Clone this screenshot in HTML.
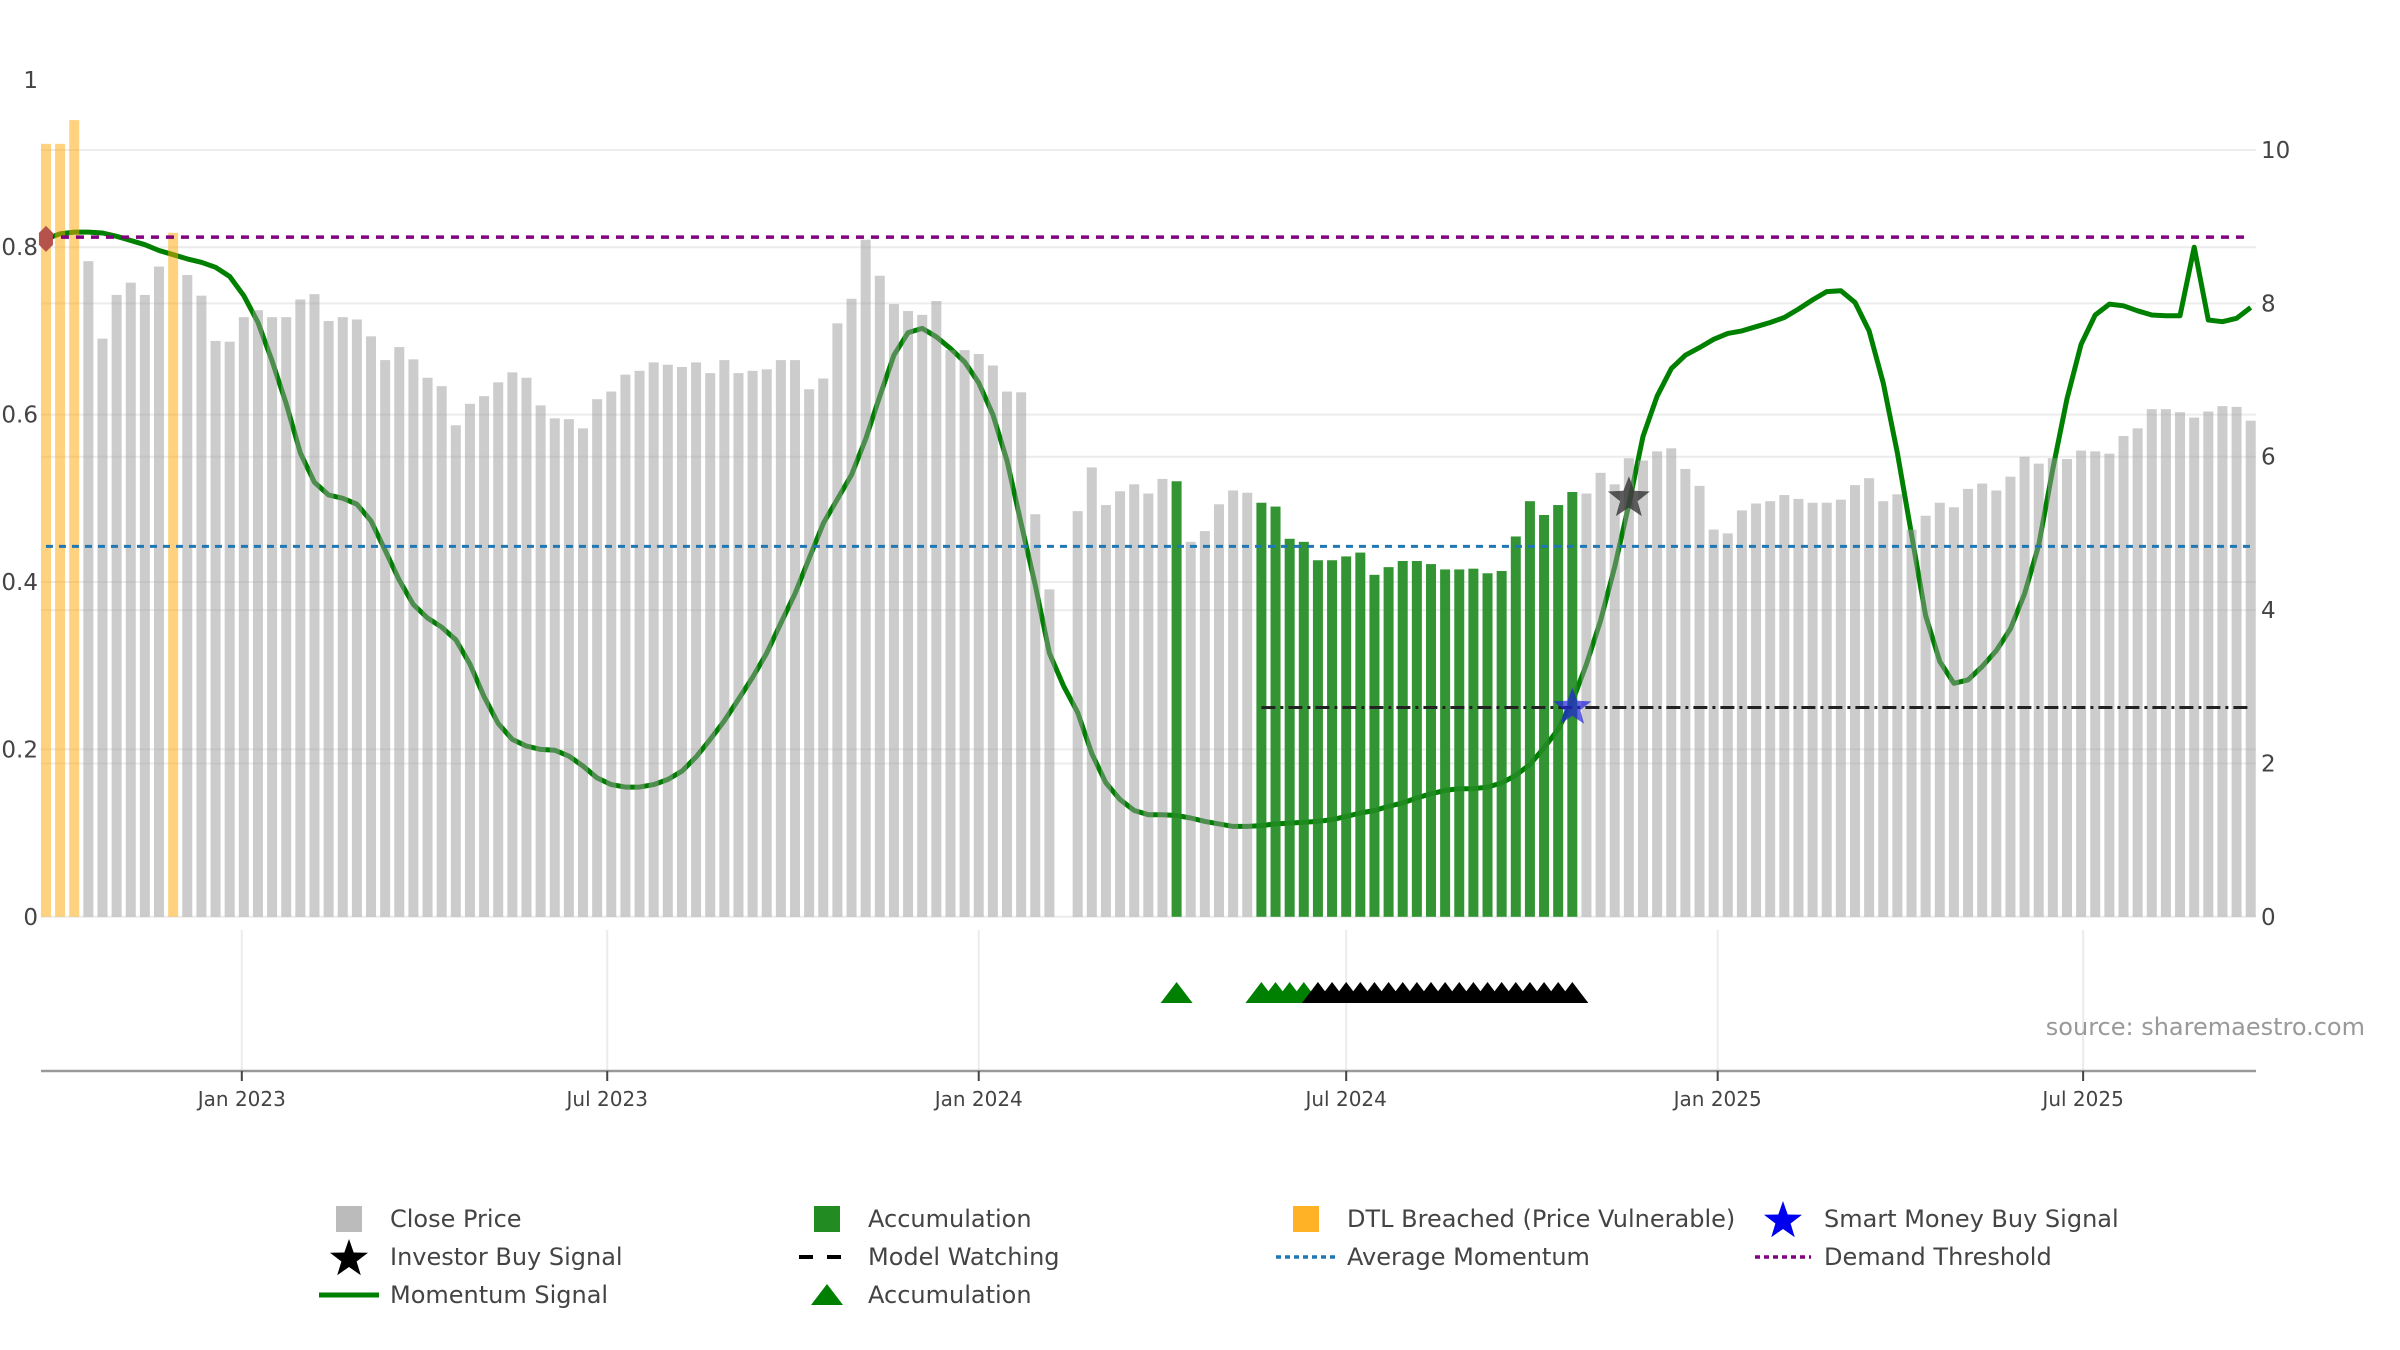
<!DOCTYPE html>
<html><head><meta charset="utf-8"><title>Momentum Chart</title>
<style>
html,body{margin:0;padding:0;background:#fff;}
svg{display:block;font-family:"DejaVu Sans","Liberation Sans",sans-serif;}
</style></head>
<body>
<svg id="chart" width="2400" height="1350" viewBox="0 0 2400 1350" xmlns="http://www.w3.org/2000/svg">
<g id="grid"></g>
<g id="lineLayer"></g>
<g id="bars"></g>
<g id="refs"></g>
<g id="markers"></g>
<g id="axes"></g>
<text x="2365" y="1035" text-anchor="end" font-size="24" fill="#999">source: sharemaestro.com</text>
<g id="legend"></g>
</svg>
<script>
const startDate = '2022-09-26';
const prices = [10.08,10.08,10.39,8.55,7.54,8.11,8.27,8.11,8.48,8.92,
8.37,8.10,7.51,7.50,7.82,7.91,7.82,7.82,8.05,8.12,
7.77,7.82,7.79,7.57,7.26,7.43,7.27,7.03,6.92,6.41,
6.69,6.79,6.97,7.10,7.03,6.67,6.50,6.49,6.37,6.75,
6.85,7.07,7.12,7.23,7.20,7.17,7.23,7.09,7.26,7.09,
7.12,7.14,7.26,7.26,6.88,7.02,7.74,8.06,8.83,8.36,
7.99,7.90,7.85,8.03,7.39,7.39,7.34,7.19,6.85,6.84,
5.25,4.27,null,5.29,5.86,5.37,5.55,5.64,5.52,5.71,
5.68,4.89,5.03,5.38,5.56,5.53,5.40,5.35,4.93,4.89,
4.65,4.65,4.70,4.75,4.46,4.56,4.64,4.64,4.60,4.53,
4.53,4.54,4.48,4.51,4.96,5.42,5.24,5.37,5.54,5.52,
5.79,5.64,5.98,5.95,6.07,6.11,5.84,5.62,5.05,5.00,
5.30,5.39,5.42,5.50,5.45,5.40,5.40,5.44,5.63,5.72,
5.42,5.51,5.05,5.23,5.40,5.34,5.58,5.65,5.56,5.74,
6.00,5.91,5.98,5.97,6.08,6.07,6.04,6.27,6.37,6.62,
6.62,6.58,6.51,6.59,6.66,6.65,6.47];
const momentum = [0.81,0.816,0.818,0.818,0.817,0.813,0.808,0.803,0.796,0.791,0.786,0.782,0.776,0.765,0.742,0.71,0.664,0.613,0.554,0.519,0.504,0.50,0.493,0.473,0.438,0.402,0.373,0.357,0.346,0.331,0.302,0.263,0.231,0.212,0.204,0.20,0.199,0.192,0.18,0.166,0.158,0.155,
0.155,0.158,0.164,0.174,0.191,0.212,0.234,0.26,0.286,0.315,0.351,0.386,0.428,0.47,0.499,0.528,0.571,0.622,0.671,0.698,0.703,0.693,0.679,0.663,0.638,0.6,0.545,0.47,0.396,0.315,0.276,0.244,0.195,0.16,0.14,0.127,0.122,0.122,0.121,0.118,
0.114,0.111,0.108,0.108,0.109,0.111,0.112,0.113,0.114,0.116,0.12,0.124,0.127,0.132,0.136,0.142,0.147,0.151,0.153,0.153,0.155,0.16,0.169,0.182,0.202,0.224,0.257,0.302,0.354,0.418,0.493,0.574,0.622,0.655,0.671,0.68,0.69,0.697,0.700,0.705,
0.71,0.716,0.726,0.737,0.747,0.748,0.734,0.70,0.638,0.554,0.457,0.36,0.305,0.279,0.283,0.299,0.318,0.344,0.386,0.444,0.535,0.619,0.684,0.719,0.732,0.73,0.724,0.719,0.718,0.718,0.80,0.713,0.711,0.715,0.728];
const dtlBars = [0,1,2,9];
const accumBars = [80,86,87,88,89,90,91,92,93,94,95,96,97,98,99,100,101,102,103,104,105,106,107,108];
const accumTriGreen = [80,86,87,88,89];
const accumTriBlack = [90,91,92,93,94,95,96,97,98,99,100,101,102,103,104,105,106,107,108];
const investorSignal = [112, 0.50];
const smartMoneySignal = [108, 0.25];
const modelWatch = [86, 156, 0.25];
const avgMomentum = 0.4425;
const demandThreshold = 0.812;
const leftTicks = [0,0.2,0.4,0.6,0.8,1];
const leftTickLabels = ['0','0.2','0.4','0.6','0.8','1'];
const rightTicks = [0,2,4,6,8,10];
const dateTicks = ['2023-01-01','2023-07-01','2024-01-01','2024-07-01','2025-01-01','2025-07-01'];
const dateTickLabels = ['Jan 2023','Jul 2023','Jan 2024','Jul 2024','Jan 2025','Jul 2025'];

const NS='http://www.w3.org/2000/svg';
const X0=41, X1=2256, YB=1071, YT=60;
const ref=Date.parse('2023-01-01');
function dayOf(s){return (Date.parse(s)-ref)/86400000;}
function xDay(d){return 241.8+2.019*d;}
function xBar(i){return xDay(dayOf(startDate)+7*i);}
function yR(v){return 916.8-v*76.68;}
function yL(v){return 916.8-v*837;}
function mk(tag,attrs,parent){const e=document.createElementNS(NS,tag);for(const k in attrs)e.setAttribute(k,attrs[k]);parent.appendChild(e);return e;}
const G=id=>document.getElementById(id);

const grid=G('grid');
rightTicks.forEach(v=>{const l=mk('line',{x1:X0,x2:X1,y1:yR(v),y2:yR(v),stroke:'#ececec','stroke-width':2},grid);

});
leftTicks.forEach(v=>{if(v===0||v===1)return;const l=mk('line',{x1:X0,x2:X1,y1:yL(v),y2:yL(v),stroke:'#ececec','stroke-width':2},grid);

});
dateTicks.forEach(d=>{const x=xDay(dayOf(d));const l=mk('line',{x1:x,x2:x,y1:930,y2:YB,stroke:'#ececec','stroke-width':2},grid);

});

const lp=momentum.map((v,i)=>(i?'L':'M')+xBar(i).toFixed(1)+','+yL(v).toFixed(1)).join(' ');
const ml=mk('path',{d:lp,fill:'none',stroke:'#008000','stroke-width':5,'stroke-linejoin':'round'},G('lineLayer'));



const bars=G('bars');
prices.forEach((v,i)=>{if(v==null)return;
let fill='rgb(153,153,153)',op=0.5,name='close-price-bar';
if(dtlBars.includes(i)){fill='#FFA500';op=0.5;name='dtl-breached-bar';}
if(accumBars.includes(i)){fill='rgb(34,139,34)';op=0.92;name='accumulation-bar';}
const r=mk('rect',{x:xBar(i)-5,y:yR(v),width:10,height:yR(0)-yR(v),fill:fill,'fill-opacity':op},bars);

});

const refs=G('refs');
let l1=mk('line',{x1:xBar(0),x2:xBar(prices.length-1),y1:yL(avgMomentum),y2:yL(avgMomentum),stroke:'#1f77b4','stroke-width':3,'stroke-dasharray':'7,6'},refs);


let l2=mk('line',{x1:xBar(0),x2:xBar(prices.length-1),y1:yL(demandThreshold),y2:yL(demandThreshold),stroke:'#800080','stroke-width':3.5,'stroke-dasharray':'8,7'},refs);


let l3=mk('line',{x1:xBar(modelWatch[0]),x2:xBar(modelWatch[1]),y1:yL(modelWatch[2]),y2:yL(modelWatch[2]),stroke:'#222','stroke-width':3,'stroke-dasharray':'14,5,3,5'},refs);



const mkG=G('markers');
function star(cx,cy,R,fill,op){let p=[];for(let k=0;k<10;k++){const a=-Math.PI/2+k*Math.PI/5;const r=k%2?R*0.42:R;p.push((cx+r*Math.cos(a)).toFixed(1)+','+(cy+r*Math.sin(a)).toFixed(1));}
return mk('polygon',{points:p.join(' '),fill:fill,'fill-opacity':op},mkG);}
function tri(cx,cy,fill){return mk('polygon',{points:`${cx-16},${cy+10} ${cx},${cy-11} ${cx+16},${cy+10}`,fill:fill},mkG);}
const triY=yL(-0.091);
accumTriGreen.forEach(i=>{const t=tri(xBar(i),triY,'#008000');

});
accumTriBlack.forEach(i=>{const t=tri(xBar(i),triY,'#000');

});
const s1=star(xBar(smartMoneySignal[0]),yL(smartMoneySignal[1]),20,'#2222dd',0.7);


const s2=star(xBar(investorSignal[0]),yL(investorSignal[1]),22,'#333',0.8);


const hx=xBar(0),hy=yL(momentum[0]);
const hex=mk('polygon',{points:`${hx},${hy-13} ${hx+7},${hy-6} ${hx+7},${hy+6} ${hx},${hy+13} ${hx-7},${hy+6} ${hx-7},${hy-6}`,fill:'#b5524a'},mkG);



const ax=G('axes');
const al=mk('line',{x1:X0,x2:X1,y1:YB,y2:YB,stroke:'#999','stroke-width':2.5},ax);


dateTicks.forEach((d,k)=>{const x=xDay(dayOf(d));
const tk=mk('line',{x1:x,x2:x,y1:YB,y2:YB+10,stroke:'#444','stroke-width':2},ax);


const t=mk('text',{x:x,y:1106,'text-anchor':'middle','font-size':20,fill:'#444'},ax);t.textContent=dateTickLabels[k];

});
leftTicks.forEach((v,k)=>{const t=mk('text',{x:38,y:yL(v)+8,'text-anchor':'end','font-size':23,fill:'#444'},ax);t.textContent=leftTickLabels[k];

});
rightTicks.forEach(v=>{const t=mk('text',{x:2261,y:yR(v)+8,'text-anchor':'start','font-size':23,fill:'#444'},ax);t.textContent=String(v);

});

const lg=G('legend');
const rows=[1219,1257,1295], icx=[349,827,1306,1783], tx=[390,868,1347,1824];
function ltext(x,y,s){const t=mk('text',{x:x,y:y+8,'font-size':24,fill:'#444'},lg);t.textContent=s;

}
let e;
e=mk('rect',{x:icx[0]-13,y:rows[0]-13,width:26,height:26,fill:'#bbb'},lg);


ltext(tx[0],rows[0],'Close Price');
e=mk('rect',{x:icx[1]-13,y:rows[0]-13,width:26,height:26,fill:'#228b22'},lg);


ltext(tx[1],rows[0],'Accumulation');
e=mk('rect',{x:icx[2]-13,y:rows[0]-13,width:26,height:26,fill:'#FFA500','fill-opacity':0.85},lg);


ltext(tx[2],rows[0],'DTL Breached (Price Vulnerable)');
{let p=[];for(let k=0;k<10;k++){const a=-Math.PI/2+k*Math.PI/5;const r=k%2?8:20;p.push((icx[3]+r*Math.cos(a)).toFixed(1)+','+(rows[0]+2+r*Math.sin(a)).toFixed(1));}
e=mk('polygon',{points:p.join(' '),fill:'#0000ee'},lg);}


ltext(tx[3],rows[0],'Smart Money Buy Signal');
{let p=[];for(let k=0;k<10;k++){const a=-Math.PI/2+k*Math.PI/5;const r=k%2?8:20;p.push((icx[0]+r*Math.cos(a)).toFixed(1)+','+(rows[1]+2+r*Math.sin(a)).toFixed(1));}
e=mk('polygon',{points:p.join(' '),fill:'#000'},lg);}


ltext(tx[0],rows[1],'Investor Buy Signal');
e=mk('line',{x1:icx[1]-28,x2:icx[1]+28,y1:rows[1],y2:rows[1],stroke:'#000','stroke-width':4,'stroke-dasharray':'14,14'},lg);


ltext(tx[1],rows[1],'Model Watching');
e=mk('line',{x1:icx[2]-30,x2:icx[2]+30,y1:rows[1],y2:rows[1],stroke:'#1f77b4','stroke-width':3.5,'stroke-dasharray':'5,4'},lg);


ltext(tx[2],rows[1],'Average Momentum');
e=mk('line',{x1:icx[3]-28,x2:icx[3]+28,y1:rows[1],y2:rows[1],stroke:'#800080','stroke-width':3.5,'stroke-dasharray':'5,4'},lg);


ltext(tx[3],rows[1],'Demand Threshold');
e=mk('line',{x1:icx[0]-30,x2:icx[0]+30,y1:rows[2],y2:rows[2],stroke:'#008000','stroke-width':5},lg);


ltext(tx[0],rows[2],'Momentum Signal');
e=mk('polygon',{points:`${icx[1]-16},${rows[2]+10} ${icx[1]},${rows[2]-11} ${icx[1]+16},${rows[2]+10}`,fill:'#008000'},lg);


ltext(tx[1],rows[2],'Accumulation');
</script>
</body></html>
